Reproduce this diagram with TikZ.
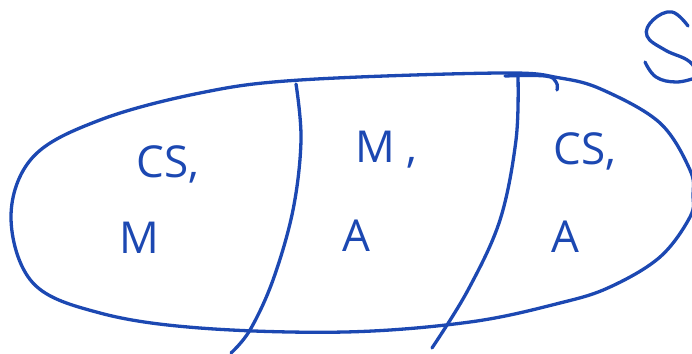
\documentclass[tikz,border=0pt]{standalone}
\usepackage{fontspec}
\setmainfont{Open Sans}
\definecolor{ink}{RGB}{28,72,178}
\begin{document}
\begin{tikzpicture}[x=1pt,y=-1pt,
  pen/.style={draw=ink,line width=3.3pt,line cap=round,line join=round},
  hand/.style={text=ink,font=\fontsize{44}{46}\selectfont,inner sep=0pt}]
\useasboundingbox (0,0) rectangle (692,353);
\begin{scope}
\clip (0,0) rectangle (692,353);
% outer ellipse
\draw[pen] plot[smooth cycle,tension=0.6] coordinates{
  (11,217) (33,157) (100,120) (200,93) (300,80) (500,73) (560,78) (603,90) (660,123)
  (690,170) (693,195) (690,217) (660,257) (610,287) (560,303) (470,322) (345,332)
  (200,328) (100,313) (33,283)};
% dividers
\draw[pen] plot[smooth,tension=0.6] coordinates{(296,84) (301,140) (293,210) (273,280) (250,330) (231,353)};
\draw[pen] plot[smooth,tension=0.6] coordinates{(518,77) (516,140) (500,220) (468,290) (432,348)};
\draw[pen] plot[smooth,tension=0.7] coordinates{(505,76) (545,76) (556,82) (557,90)};
% S
\draw[pen] plot[smooth,tension=0.7] coordinates{(688,26) (672,12) (653,20) (647,36) (665,50) (690,62) (700,80)};
\draw[pen] plot[smooth,tension=0.7] coordinates{(645,62) (656,77) (676,82) (695,78)};
\end{scope}
\node[hand] (t1) at (168,164) {CS,};
\node[hand] (t2) at (139,238) {M};
\node[hand] (t3) at (386,150) {M ,};
\node[hand] (t4) at (356,236) {A};
\node[hand] (t5) at (585,151) {CS,};
\node[hand] (t6) at (565,237) {A};
\end{tikzpicture}
\end{document}
